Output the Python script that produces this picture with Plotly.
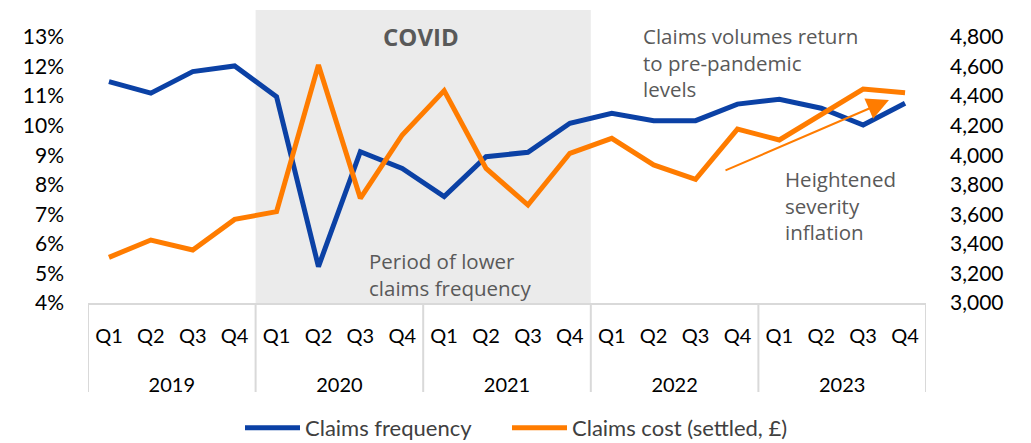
import plotly.graph_objects as go

year_labels = ["2019", "2020", "2021", "2022", "2023"]
quarter_labels = ["Q1", "Q2", "Q3", "Q4"]
periods = [f"{y} {q}" for y in year_labels for q in quarter_labels]

claims_frequency = [0.1149, 0.1110, 0.1183, 0.1202,
                    0.1098, 0.0523, 0.0912, 0.0855,
                    0.0760, 0.0895, 0.0910, 0.1008,
                    0.1042, 0.1017, 0.1017, 0.1073,
                    0.1089, 0.1059, 0.1002, 0.1076]
claims_cost = [3309, 3426, 3359, 3566,
               3618, 4611, 3708, 4137,
               4437, 3911, 3663, 4013,
               4114, 3934, 3837, 4177,
               4103, 4277, 4448, 4423]

BLUE = "#0B41A5"
ORANGE = "#FF7C00"
GREY_TXT = "#595959"
AXIS_GREY = "#D9D9D9"
TICK_FONT = dict(family="Lato", size=21, color="#000000")
CAT_FONT = dict(family="Lato", size=20, color="#000000")
LEG_FONT = dict(family="Lato", size=22, color="#404040")

n = len(periods)
n_years = len(year_labels)
xidx = list(range(n))
year_pos = [1.5 + 4 * k for k in range(n_years)]

fig = go.Figure()
fig.add_trace(go.Scatter(x=xidx, y=claims_frequency, name="Claims frequency",
                         customdata=periods, mode="lines", legend="legend",
                         line=dict(color=BLUE, width=5), xaxis="x", yaxis="y"))
fig.add_trace(go.Scatter(x=xidx, y=claims_cost, name="Claims cost (settled, £)",
                         customdata=periods, mode="lines", legend="legend2",
                         line=dict(color=ORANGE, width=5), xaxis="x", yaxis="y2"))
# carrier trace so the year axis is drawn
fig.add_trace(go.Scatter(x=year_pos, y=[None] * n_years, mode="lines", showlegend=False,
                         hoverinfo="skip", xaxis="x2", yaxis="y"))

# page body margin offsets the figure by 8px; work in window pixels
OFF = 8
WIN_W, WIN_H = 1031, 443
W, H = WIN_W - OFF, WIN_H - OFF
plot_left, plot_right, plot_top, plot_bottom = 88, 926, 37, 303
L = plot_left - OFF
R = WIN_W - plot_right
T = plot_top - OFF
B = 0
paper_h = H - T - B
dom0 = (WIN_H - plot_bottom) / paper_h
pw = plot_right - plot_left
ph = plot_bottom - plot_top


def px(xp):
    return (xp - plot_left) / pw


def py(yp):
    return (plot_bottom - yp) / ph


def paper_y(yp):
    return (WIN_H - yp) / paper_h


# COVID shading (2020 Q1 .. 2021 Q4)
fig.add_shape(type="rect", xref="x", yref="y domain", x0=3.5, x1=11.5, y0=0, y1=py(10),
              fillcolor="#EBEBEB", line=dict(width=0), layer="below")

# year group dividers
for k in range(n_years + 1):
    fig.add_shape(type="line", xref="x", yref="paper", x0=-0.5 + 4 * k, x1=-0.5 + 4 * k,
                  y0=paper_y(392), y1=dom0, line=dict(color=AXIS_GREY, width=2), layer="below")

ann_font = dict(family="Open Sans", size=20.5, color=GREY_TXT)
fig.add_annotation(xref="x domain", yref="y domain", x=px(421), y=py(36), text="<b>COVID</b>",
                   showarrow=False, font=dict(family="Open Sans", size=24, color=GREY_TXT),
                   xanchor="center", yanchor="middle")
fig.add_annotation(xref="x domain", yref="y domain", x=px(367), y=py(274),
                   text="Period of lower<br>claims frequency",
                   showarrow=False, font=ann_font, xanchor="left", yanchor="middle", align="left")
fig.add_annotation(xref="x domain", yref="y domain", x=px(641), y=py(62),
                   text="Claims volumes return<br>to pre-pandemic<br>levels",
                   showarrow=False, font=ann_font, xanchor="left", yanchor="middle", align="left")
fig.add_annotation(xref="x domain", yref="y domain", x=px(783), y=py(205),
                   text="Heightened<br>severity<br>inflation",
                   showarrow=False, font=ann_font, xanchor="left", yanchor="middle", align="left")
fig.add_annotation(xref="x domain", yref="y domain", x=px(889), y=py(100), ax=-165, ay=71,
                   text="", showarrow=True, arrowhead=2, arrowsize=2.2, arrowwidth=2,
                   arrowcolor=ORANGE)

leg_common = dict(orientation="h", xanchor="left", yanchor="middle", y=paper_y(428),
                  font=LEG_FONT, itemwidth=55, bgcolor="rgba(0,0,0,0)")

fig.update_layout(
    width=W, height=H,
    margin=dict(l=L, r=R, t=T, b=B, autoexpand=False),
    plot_bgcolor="white", paper_bgcolor="white",
    showlegend=True,
    legend=dict(x=px(240), **leg_common),
    legend2=dict(x=px(507), **leg_common),
    xaxis=dict(range=[-0.5, n - 0.5], tickvals=xidx, ticktext=quarter_labels * n_years,
               showline=True, linecolor=AXIS_GREY, linewidth=2, showgrid=False,
               zeroline=False, ticks="", tickfont=CAT_FONT, automargin=False,
               ticklabelstandoff=14, anchor="y"),
    xaxis2=dict(range=[-0.5, n - 0.5], overlaying="x", anchor="free",
                position=paper_y(369), side="bottom", automargin=False,
                tickvals=year_pos, ticktext=year_labels,
                showline=False, showgrid=False, zeroline=False, ticks="",
                tickfont=CAT_FONT, ticklabelstandoff=2),
    yaxis=dict(domain=[dom0, 1], range=[0.04, 0.13], dtick=0.01, tickformat=".0%",
               showgrid=False, zeroline=False, showline=False, ticks="", tickfont=TICK_FONT,
               ticklabelstandoff=23, automargin=False),
    yaxis2=dict(range=[3000, 4800], dtick=200, tickformat=",", overlaying="y", side="right",
                showgrid=False, zeroline=False, showline=False, ticks="", tickfont=TICK_FONT,
                ticklabelstandoff=23, automargin=False),
)

fig.write_html("out.html")
